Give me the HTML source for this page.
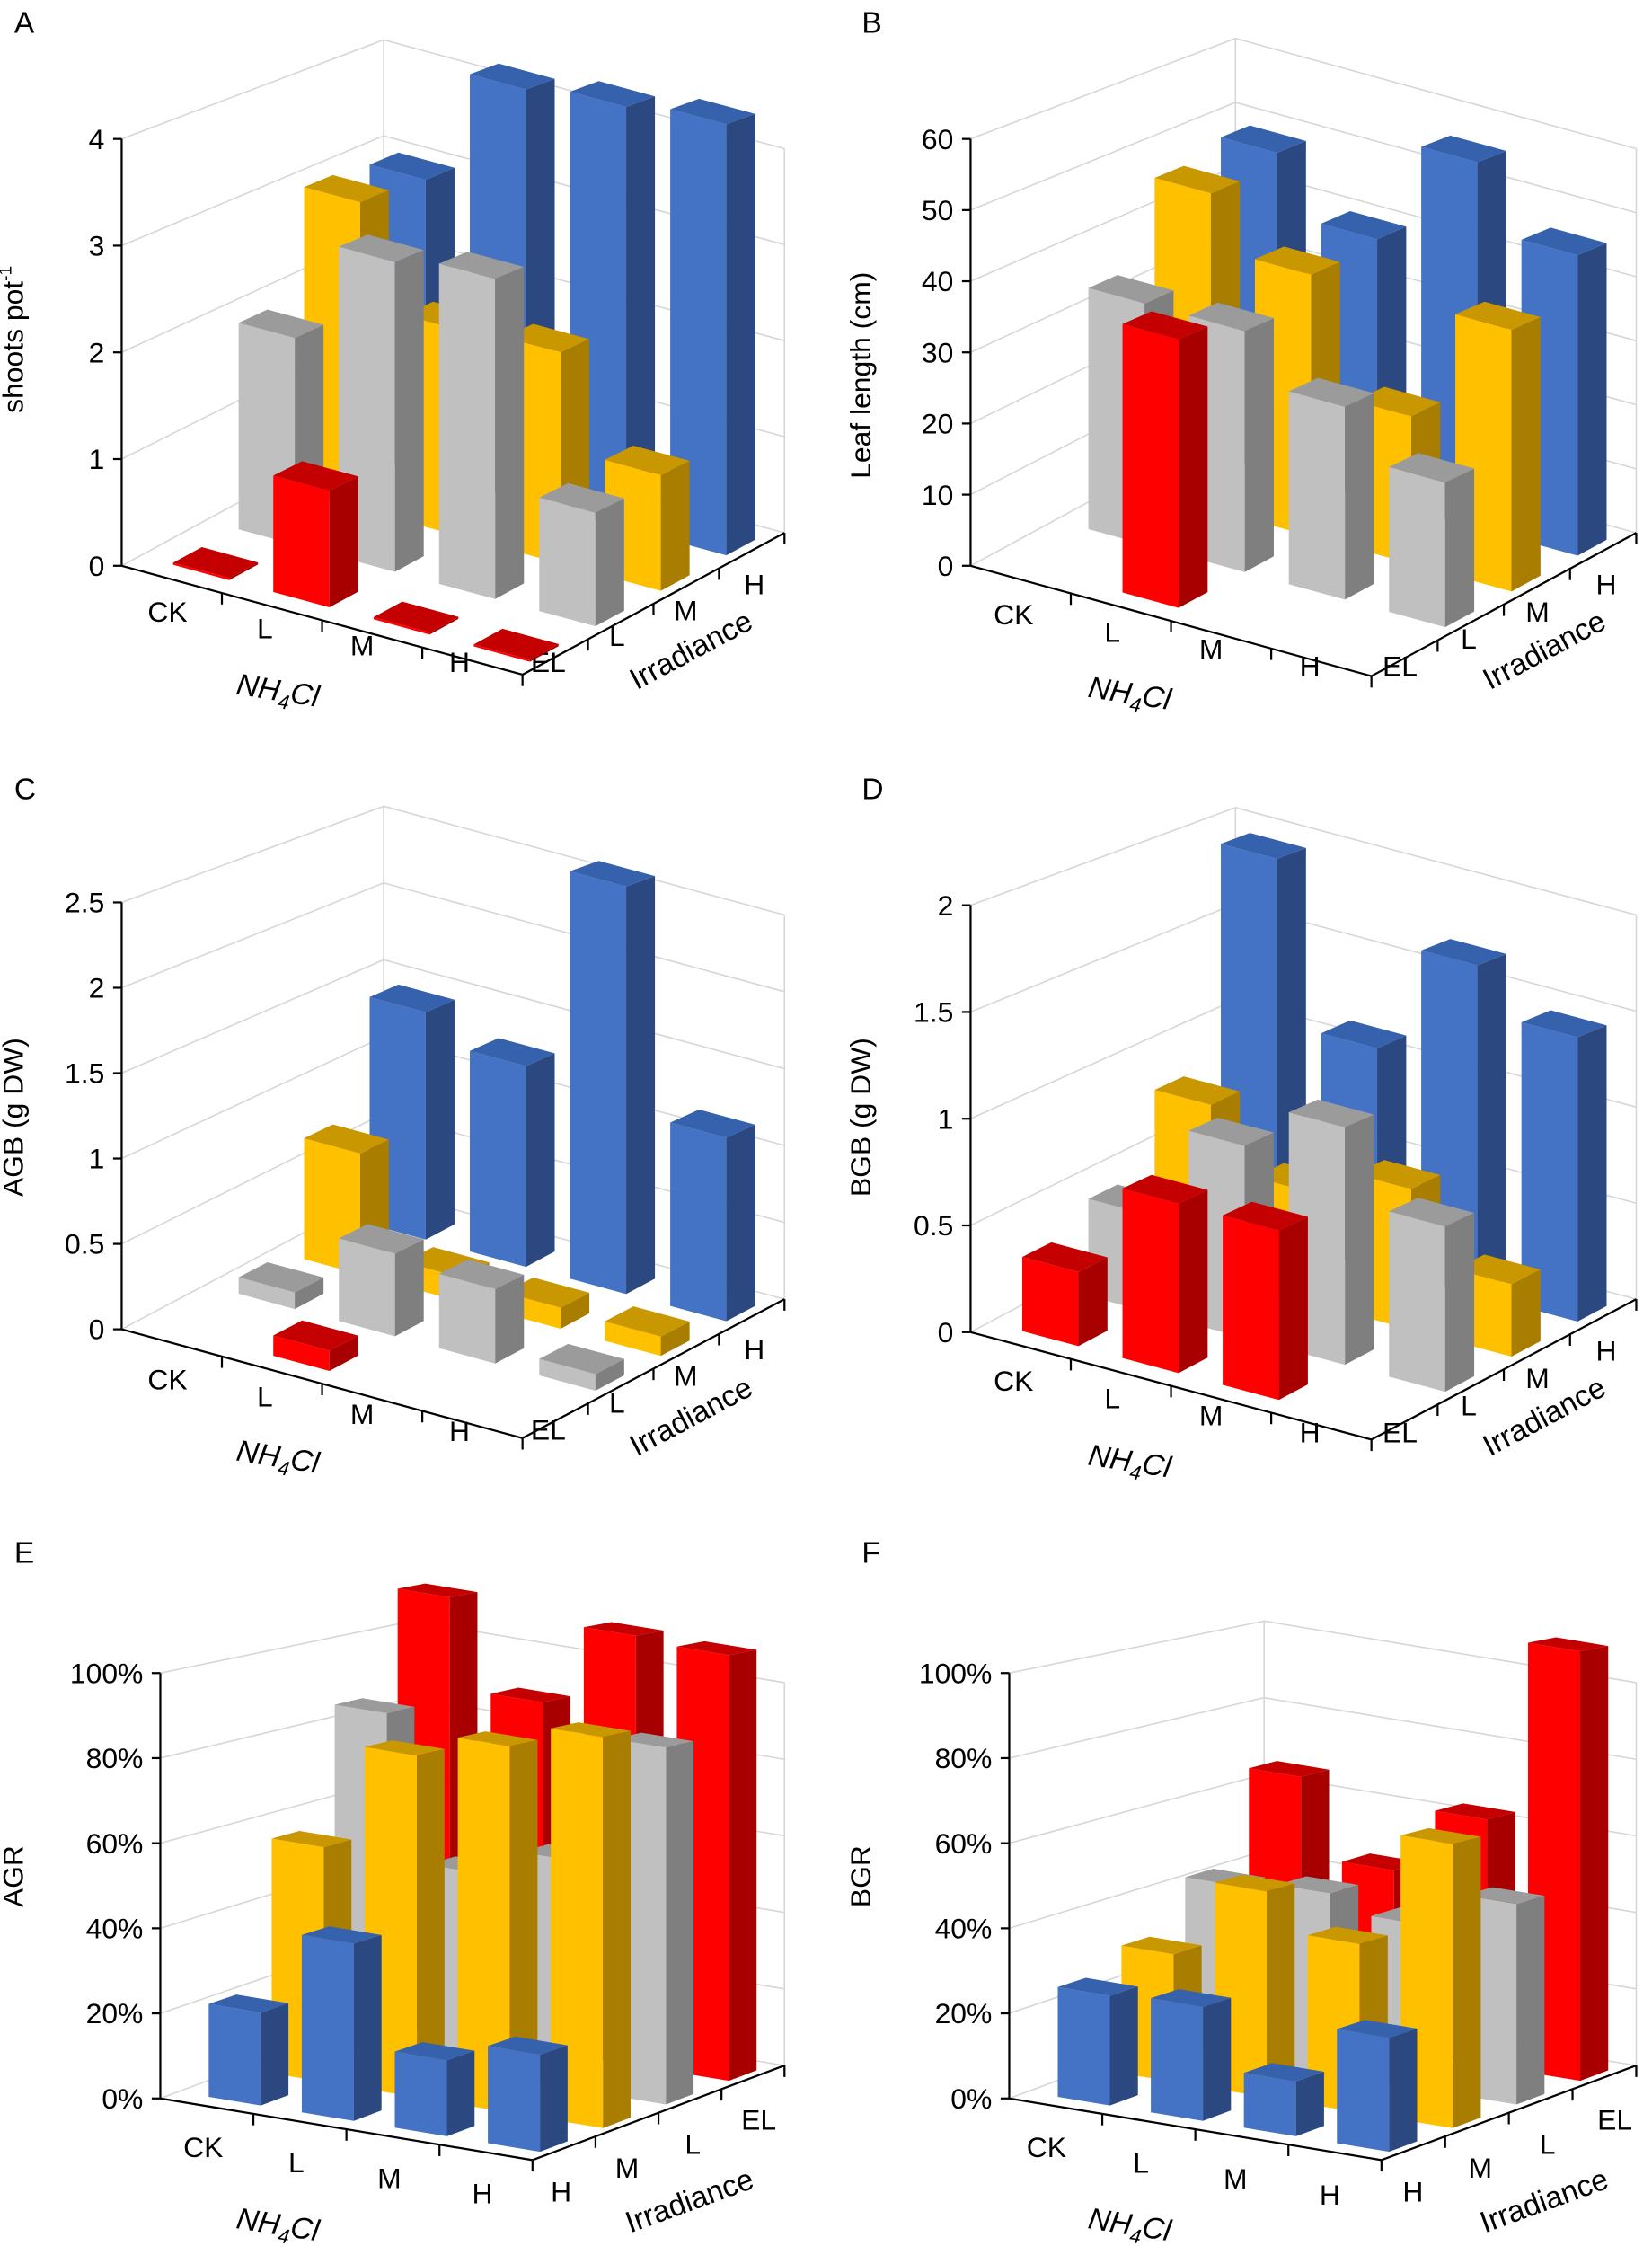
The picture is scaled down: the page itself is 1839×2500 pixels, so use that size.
<!DOCTYPE html>
<html><head><meta charset="utf-8">
<style>
html,body{margin:0;padding:0;background:#fff;}
svg{display:block;font-family:"Liberation Sans",Arial,sans-serif;}
</style></head>
<body>
<svg id="chart" xmlns="http://www.w3.org/2000/svg" width="1839" height="2500" viewBox="0 0 1154 1568" preserveAspectRatio="none"></svg>
<script>
// ---- data ----
const xCats = ['CK','L','M','H'];
const depthCatsAD = ['EL','L','M','H'];
const depthCatsEF = ['H','M','L','EL'];
// Panel A: shoots pot-1
const shootsEL = [0, 1.1, 0, 0];
const shootsL  = [2.0, 3.0, 3.1, 1.1];
const shootsM  = [3.05, 2.05, 2.1, 1.15];
const shootsH  = [3.0, 4.2, 4.3, 4.4];
// Panel B: leaf length
const leafEL = [0, 38, 0, 0];
const leafL  = [35, 35, 28, 21];
const leafM  = [47, 39, 22, 39];
const leafH  = [49, 40, 56, 46];
// Panel C: AGB
const agbEL = [0, 0.12, 0, 0];
const agbL  = [0.1, 0.5, 0.45, 0.1];
const agbM  = [0.75, 0.15, 0.13, 0.12];
const agbH  = [1.45, 1.28, 2.6, 1.17];
// Panel D: BGB
const bgbEL = [0.35, 0.8, 0.8, 0];
const bgbL  = [0.47, 0.93, 1.15, 0.8];
const bgbM  = [0.85, 0.55, 0.7, 0.36];
const bgbH  = [1.95, 1.12, 1.68, 1.45];
// Panel E: AGR (%)
const agrH  = [22, 42, 18, 23];
const agrM  = [57, 83, 89, 95];
const agrL  = [86, 50, 57, 89];
const agrEL = [112, 89, 110, 109];
// Panel F: BGR (%)
const bgrH  = [26, 27, 13, 27];
const bgrM  = [31, 50, 41, 69];
const bgrL  = [43, 45, 41, 50];
const bgrEL = [66, 46, 63, 110];

const COLORS = {
  EL:['#FF0000','#A80000','#C40000'],
  L:['#C0C0C0','#7F7F7F','#9B9B9B'],
  M:['#FFC000','#A87D00','#C99700'],
  H:['#4472C4','#2B4880','#3661AC']
};

const NS = 'http://www.w3.org/2000/svg';
const svg = document.getElementById('chart');
function mk(tag, attrs, parent){
  const e = document.createElementNS(NS, tag);
  for (const k in attrs) e.setAttribute(k, attrs[k]);
  (parent||svg).appendChild(e);
  return e;
}

const panels = [
 {id:'a', letter:'A', lp:[10,23], F:[85,395], R:[365,471], B:[548,372], topY:97, max:4, step:1, pct:false, dec:0,
  ylabel:'shoots pot', sup:'-1', yl:[16,237], rows:[shootsEL,shootsL,shootsM,shootsH], depth:depthCatsAD, zeroSliver:true,
  xl0:[117,434], xld:[68,11.7], dl0:[383,469], dld:[48,-18], nh:[193,489], irr:[486,460], irrRot:-28},
 {id:'b', letter:'B', lp:[602,23], F:[678,395], R:[958,472], B:[1143,372], topY:97, max:60, step:10, pct:false, dec:0,
  ylabel:'Leaf length (cm)', yl:[608,262], rows:[leafEL,leafL,leafM,leafH], depth:depthCatsAD,
  xl0:[708,436], xld:[69,12], dl0:[978,472], dld:[48,-19], nh:[788,491], irr:[1082,460], irrRot:-28},
 {id:'c', letter:'C', lp:[10,558], F:[85,928], R:[365,1004], B:[548,907], topY:630, max:2.5, step:0.5, pct:false, dec:1,
  ylabel:'AGB (g DW)', yl:[16,780], rows:[agbEL,agbL,agbM,agbH], depth:depthCatsAD,
  xl0:[117,970], xld:[68,12], dl0:[383,1005], dld:[48,-18.7], nh:[193,1024], irr:[486,995], irrRot:-28},
 {id:'d', letter:'D', lp:[602,558], F:[678,930], R:[958,1005], B:[1143,907], topY:632, max:2, step:0.5, pct:false, dec:1,
  ylabel:'BGB (g DW)', yl:[608,780], rows:[bgbEL,bgbL,bgbM,bgbH], depth:depthCatsAD,
  xl0:[708,971], xld:[69,12], dl0:[978,1007], dld:[48,-19], nh:[788,1027], irr:[1082,995], irrRot:-28},
 {id:'e', letter:'E', lp:[10,1091], F:[112,1465], R:[372,1508], B:[548,1442], topY:1168, max:100, step:20, pct:true, dec:0,
  ylabel:'AGR', yl:[16,1310], rows:[agrH,agrM,agrL,agrEL], depth:depthCatsEF,
  xl0:[142,1506], xld:[65,10.7], dl0:[392,1537], dld:[46,-16.7], nh:[193,1560], irr:[484,1543], irrRot:-20},
 {id:'f', letter:'F', lp:[602,1091], F:[705,1465], R:[965,1508], B:[1143,1442], topY:1168, max:100, step:20, pct:true, dec:0,
  ylabel:'BGR', yl:[608,1310], rows:[bgrH,bgrM,bgrL,bgrEL], depth:depthCatsEF,
  xl0:[731,1506], xld:[66,11], dl0:[987,1537], dld:[47,-16.7], nh:[788,1560], irr:[1081,1543], irrRot:-20}
];

function drawPanel(p){
  const g = mk('g', {});
  
  
  const ppu = (p.F[1] - p.topY) / p.max;
  const fx = [(p.R[0]-p.F[0])/4, (p.R[1]-p.F[1])/4];
  const dx = [(p.B[0]-p.R[0])/4, (p.B[1]-p.R[1])/4];
  function P(i, j, v){
    return [p.F[0] + i*fx[0] + j*dx[0], p.F[1] + i*fx[1] + j*dx[1] - v*ppu*(1 - 0.1*j/4)];
  }
  const pt = a => a[0].toFixed(1)+','+a[1].toFixed(1);

  const lt = mk('text', {x:p.lp[0], y:p.lp[1], 'font-size':21, fill:'#000'}, g);
  lt.textContent = p.letter;
  
  

  const grid = mk('g', {stroke:'#d6d6d6', 'stroke-width':1, fill:'none'}, g);
  
  
  const nT = Math.round(p.max / p.step);
  for (let k = 0; k <= nT; k++){
    const v = k * p.step;
    mk('polyline', {points: pt(P(0,0,v))+' '+pt(P(0,4,v))+' '+pt(P(4,4,v))}, grid);
  }
  mk('line', {x1:P(0,4,0)[0], y1:P(0,4,0)[1], x2:P(0,4,p.max)[0], y2:P(0,4,p.max)[1]}, grid);
  mk('line', {x1:P(4,4,0)[0], y1:P(4,4,0)[1], x2:P(4,4,p.max)[0], y2:P(4,4,p.max)[1]}, grid);

  const ax = mk('g', {stroke:'#000', 'stroke-width':1.4, fill:'none'}, g);
  
  
  mk('line', {x1:P(0,0,0)[0], y1:P(0,0,0)[1], x2:P(0,0,p.max)[0], y2:P(0,0,p.max)[1]}, ax);
  mk('line', {x1:P(0,0,0)[0], y1:P(0,0,0)[1], x2:P(4,0,0)[0], y2:P(4,0,0)[1]}, ax);
  mk('line', {x1:P(4,0,0)[0], y1:P(4,0,0)[1], x2:P(4,4,0)[0], y2:P(4,4,0)[1]}, ax);
  for (let k = 0; k <= nT; k++){
    const q = P(0,0,k*p.step);
    mk('line', {x1:q[0]-6, y1:q[1], x2:q[0], y2:q[1]}, ax);
    const t = mk('text', {x:q[0]-12, y:q[1]+7, 'font-size':20, 'text-anchor':'end', fill:'#000', stroke:'none'}, g);
    const v = k*p.step;
    t.textContent = p.pct ? (v + '%') : (p.dec && v !== 0 && v % 1 !== 0 ? v.toFixed(1) : String(v));
    
    
  }
  for (let i = 1; i <= 4; i++){
    const q = P(i,0,0);
    mk('line', {x1:q[0], y1:q[1], x2:q[0], y2:q[1]+8}, ax);
  }
  for (let j = 1; j <= 4; j++){
    const q = P(4,j,0);
    mk('line', {x1:q[0], y1:q[1], x2:q[0], y2:q[1]+8}, ax);
  }

  xCats.forEach((c, i) => {
    const t = mk('text', {x:p.xl0[0]+i*p.xld[0], y:p.xl0[1]+i*p.xld[1], 'font-size':20, 'text-anchor':'middle', fill:'#000'}, g);
    t.textContent = c;
    
    
  });
  p.depth.forEach((c, j) => {
    const t = mk('text', {x:p.dl0[0]+j*p.dld[0], y:p.dl0[1]+j*p.dld[1], 'font-size':20, 'text-anchor':'middle', fill:'#000'}, g);
    t.textContent = c;
    
    
  });

  const nh = mk('text', {x:p.nh[0], y:p.nh[1], 'font-size':21, 'font-style':'italic', 'text-anchor':'middle', fill:'#000',
    transform:'rotate(9 '+p.nh[0]+' '+p.nh[1]+')'}, g);
  
  
  nh.innerHTML = 'NH<tspan font-size="14" dy="5">4</tspan><tspan dy="-5">Cl</tspan>';
  const ir = mk('text', {x:p.irr[0], y:p.irr[1], 'font-size':21, 'text-anchor':'middle', fill:'#000',
    transform:'rotate('+p.irrRot+' '+p.irr[0]+' '+p.irr[1]+')'}, g);
  ir.textContent = 'Irradiance';
  
  
  const yt = mk('text', {x:p.yl[0], y:p.yl[1], 'font-size':20, 'text-anchor':'middle', fill:'#000',
    transform:'rotate(-90 '+p.yl[0]+' '+p.yl[1]+')'}, g);
  
  
  yt.textContent = p.ylabel;
  if (p.sup){
    const s = mk('tspan', {'font-size':12, dy:-8}, yt);
    s.textContent = p.sup;
  }

  const bw0 = 0.33, bw1 = 0.89, bd0 = 0.28, bd1 = 0.72;
  for (let j = 3; j >= 0; j--){
    const vals = p.rows[j];
    const col = COLORS[p.depth[j]];
    for (let i = 0; i < 4; i++){
      let v = vals[i];
      if (v === 0 && !p.zeroSliver) continue;
      if (v === 0) v = 0.02;
      const i0 = i + bw0, i1 = i + bw1, j0 = j + bd0, j1 = j + bd1;
      const bg = mk('g', {}, g);
      
      
      mk('polygon', {points:[P(i0,j0,0),P(i1,j0,0),P(i1,j0,v),P(i0,j0,v)].map(pt).join(' '), fill:col[0]}, bg);
      mk('polygon', {points:[P(i1,j0,0),P(i1,j1,0),P(i1,j1,v),P(i1,j0,v)].map(pt).join(' '), fill:col[1]}, bg);
      mk('polygon', {points:[P(i0,j0,v),P(i1,j0,v),P(i1,j1,v),P(i0,j1,v)].map(pt).join(' '), fill:col[2]}, bg);
    }
  }
}
panels.forEach(drawPanel);
</script>
</body></html>
